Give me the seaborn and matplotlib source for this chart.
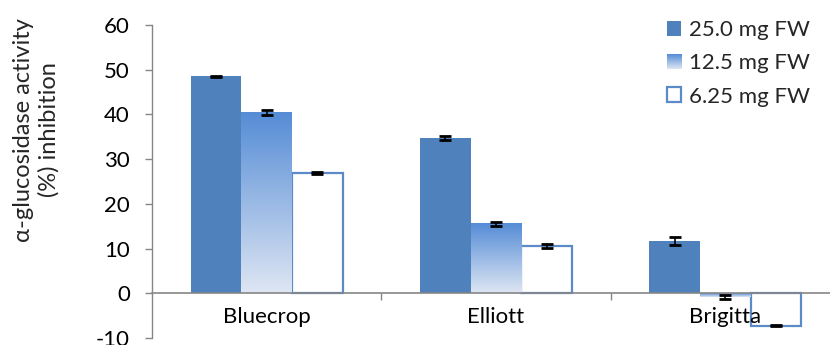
import numpy as np
import pandas as pd
import matplotlib
matplotlib.use("Agg")
import matplotlib.pyplot as plt
import seaborn as sns
from matplotlib.patches import Patch
from matplotlib.legend_handler import HandlerBase
from matplotlib.image import BboxImage
from matplotlib.transforms import Bbox, TransformedBbox
from matplotlib.ticker import FixedLocator

# Inhibition data (mean and error) for each cultivar and extract dose
cultivars = ["Bluecrop", "Elliott", "Brigitta"]
doses = ["25.0 mg FW", "12.5 mg FW", "6.25 mg FW"]
inhib_25 = [48.5, 34.7, 11.6]
inhib_12 = [40.4, 15.6, -0.75]
inhib_6 = [26.9, 10.5, -7.25]
err_25 = [0.2, 0.5, 0.9]
err_12 = [0.5, 0.45, 0.45]
err_6 = [0.15, 0.45, 0.1]
yticks = [-10, 0, 10, 20, 30, 40, 50, 60]

means = [inhib_25, inhib_12, inhib_6]
errs = [err_25, err_12, err_6]

df = pd.DataFrame({
    "cultivar": np.repeat([cultivars], 3, axis=0).ravel(),
    "dose": np.repeat(doses, 3),
    "value": np.concatenate(means),
})

BLUE = "#4F81BD"
EDGE = "#5A8AC8"
GREY = "#868686"
grad_top = np.array([0x55, 0x8C, 0xD6]) / 255
grad_bot = np.array([0xDE, 0xE6, 0xF3]) / 255
t = np.linspace(0, 1, 256)[:, None]
grad_rgb = (grad_top * (1 - t) + grad_bot * t)[:, None, :]

sns.set_theme(style="white")
plt.rcParams["font.family"] = ["Lato", "DejaVu Sans"]
plt.rcParams["font.size"] = 16
plt.rcParams["axes.unicode_minus"] = False

fig = plt.figure(figsize=(8.30, 3.45), dpi=100)
ax = fig.add_axes([152 / 830, 7 / 345, 688 / 830, 313 / 345])

sns.barplot(data=df, x="cultivar", y="value", hue="dose", order=cultivars,
            hue_order=doses, palette=[BLUE, BLUE, "white"], saturation=1,
            width=0.663, gap=0, errorbar=None, legend=False, ax=ax)

ylim = (-10, 60)

# solid series
for p in ax.containers[0]:
    p.set_edgecolor("none")
# gradient series
for p in ax.containers[1]:
    p.set_facecolor("none")
    p.set_edgecolor("none")
    x0, w = p.get_x(), p.get_width()
    y0, h = p.get_y(), p.get_height()
    bot, top = min(y0, y0 + h), max(y0, y0 + h)
    ax.imshow(grad_rgb, extent=(x0, x0 + w, bot, top), aspect="auto",
              origin="upper", interpolation="bilinear", zorder=p.get_zorder())
# outlined series
for p in ax.containers[2]:
    p.set_facecolor("white")
    p.set_edgecolor(EDGE)
    p.set_linewidth(1.6)

ax.set_xlim(-0.5, 2.5)
ax.set_ylim(*ylim)

# error bars at bar centres
for cont, m, e in zip(ax.containers, means, errs):
    xs = [p.get_x() + p.get_width() / 2 for p in cont]
    ax.errorbar(xs, m, yerr=e, fmt="none", ecolor="black", elinewidth=1.2,
                capsize=4.5, capthick=2, zorder=6)

# axes styling
ax.set_axisbelow(False)
for s in ["top", "right"]:
    ax.spines[s].set_visible(False)
ax.spines["left"].set_color(GREY)
ax.spines["bottom"].set_color(GREY)
ax.spines["left"].set_linewidth(1)
ax.spines["bottom"].set_linewidth(1.2)
ax.spines["bottom"].set_position(("data", 0))

ax.set_yticks(yticks)
ax.tick_params(axis="y", direction="out", length=5, width=1, color=GREY,
               pad=11, labelsize=16, labelcolor="black", left=True)
ax.xaxis.set_minor_locator(FixedLocator([0.5, 1.5, 2.5]))
ax.tick_params(axis="x", which="major", length=0, pad=10, labelsize=16,
               labelcolor="black")
ax.tick_params(axis="x", which="minor", direction="out", length=5, width=1,
               color=GREY, bottom=True)
ax.set_xlabel("")
ax.set_ylabel("")
fig.text(36 / 830, 1 - 130 / 345, "α-glucosidase activity\n(%) inhibition",
         rotation=90, ha="center", va="center", multialignment="center",
         fontsize=17, linespacing=1.25)


class GradientHandler(HandlerBase):
    def create_artists(self, legend, orig_handle, xdescent, ydescent,
                       width, height, fontsize, trans):
        bb = TransformedBbox(Bbox.from_bounds(-xdescent, -ydescent, width, height), trans)
        img = BboxImage(bb, interpolation="bilinear")
        img.set_data(grad_rgb)
        return [img]


class GradKey:
    pass


handles = [Patch(facecolor=BLUE, edgecolor="none"), GradKey(),
           Patch(facecolor="white", edgecolor=EDGE, linewidth=1.6)]
ax.legend(handles, doses, loc="upper left", bbox_to_anchor=(667 / 830, 1 - 20 / 345),
          bbox_transform=fig.transFigure, frameon=False, fontsize=16,
          handlelength=0.65, handleheight=0.65, handletextpad=0.35,
          labelspacing=0.6, borderpad=0, borderaxespad=0,
          handler_map={GradKey: GradientHandler()})

fig.savefig("out.png", dpi=100)
